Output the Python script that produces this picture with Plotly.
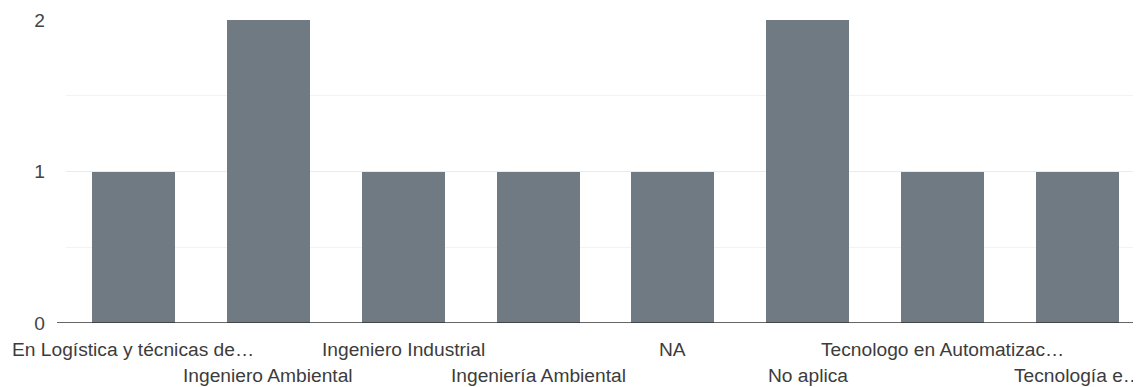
import plotly.graph_objects as go

categories = ["En Logística y técnicas de…", "Ingeniero Ambiental", "Ingeniero Industrial",
              "Ingeniería Ambiental", "NA", "No aplica", "Tecnologo en Automatizac…", "Tecnología e…"]
values = [1, 2, 1, 1, 1, 2, 1, 1]
y_ticks = [0, 1, 2]

xs = list(range(len(categories)))
fig = go.Figure(go.Bar(x=xs, y=values, marker=dict(color="#6f7a82", line=dict(width=0)), width=0.615))

annotations = []
for i, c in enumerate(categories):
    annotations.append(dict(x=i, y=0, xref="x", yref="paper", text=c, showarrow=False,
                            yanchor="middle", xanchor="center",
                            yshift=-26.5 if i % 2 == 0 else -52.5,
                            font=dict(family="Liberation Sans, Arial", size=19.2, color="#3c3c3c")))

# page body has an 8px margin, so the figure is sized/offset to compensate
fig.update_layout(
    width=1133, height=379,
    margin=dict(l=58, r=0, t=12, b=64),
    plot_bgcolor="white", paper_bgcolor="white",
    showlegend=False, bargap=0,
    font=dict(family="Liberation Sans, Arial", size=19.2, color="#444"),
    annotations=annotations,
    shapes=[dict(type="line", xref="paper", yref="y", x0=-9/1075, x1=1, y0=0, y1=0,
                 line=dict(color="#333", width=1.5))],
    xaxis=dict(range=[-0.5, 7.47], showticklabels=False, showgrid=True, gridcolor="#ebebeb",
               tickvals=[-0.5], zeroline=False, showline=False, fixedrange=True),
    yaxis=dict(range=[0, 2], tickvals=y_ticks, ticktext=[str(v) for v in y_ticks],
               showgrid=True, gridcolor="#ebebeb", gridwidth=1, zeroline=False, showline=False,
               minor=dict(dtick=0.5, showgrid=True, gridcolor="#f3f3f3"),
               ticklabelstandoff=20, tickfont=dict(size=19.2, color="#444")),
)
fig.write_html("out.html")
